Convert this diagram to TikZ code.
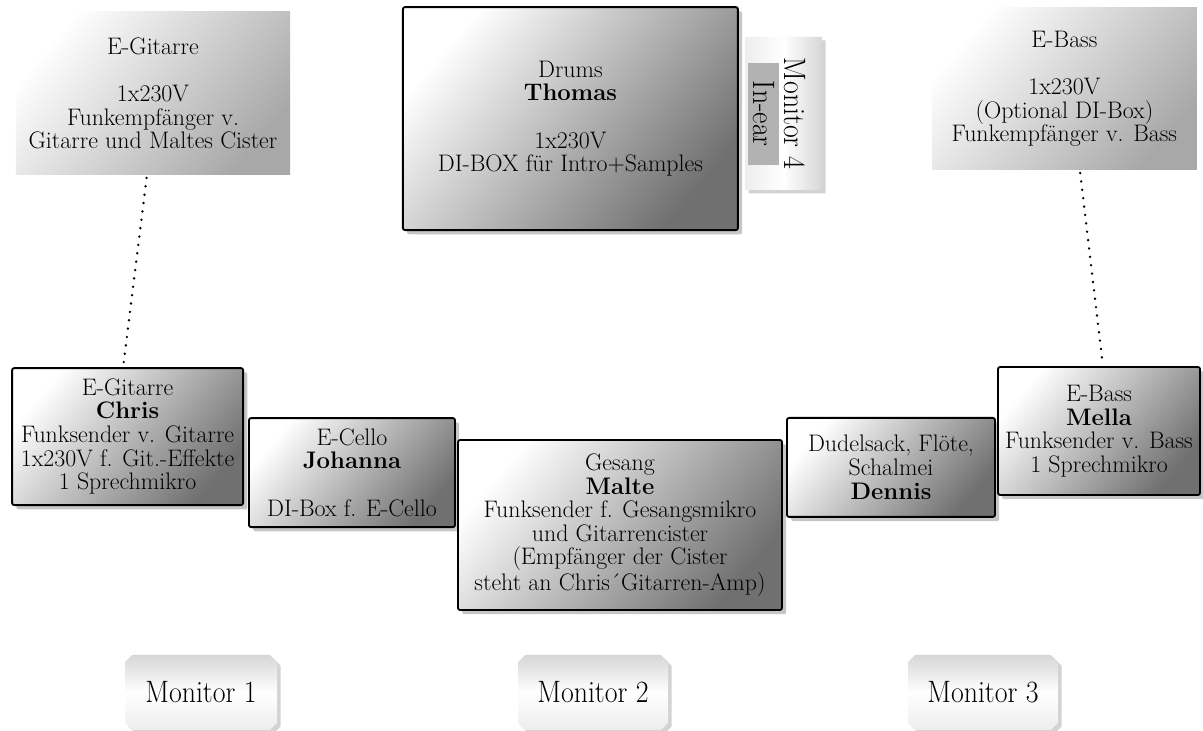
\documentclass[tikz,border=0pt]{standalone}
\usepackage{fontspec}
\usepackage{graphicx}
\usetikzlibrary{positioning, shadows, shapes.misc}
\newcommand{\stagefont}{\fontsize{17}{16.8}\selectfont}
\newcommand{\monlabel}[1]{\fontsize{22}{24}\selectfont\scalebox{0.9}[1]{#1}}
\tikzset{
  player/.style={rectangle, rounded corners=1.5pt, draw=black, line width=1.3pt,
                 top color=white, bottom color=black!56, shading angle=50,
                 drop shadow={shadow xshift=3pt, shadow yshift=-3pt, opacity=0.45},
                 align=center, inner sep=2pt, font=\stagefont},
  gearbox/.style={rectangle, top color=white, bottom color=black!34, shading angle=50,
                  align=center, inner sep=2pt, font=\stagefont},
  monbox/.style={chamfered rectangle, chamfered rectangle xsep=2.5pt,
                 chamfered rectangle ysep=2.5pt, top color=gray!32, bottom color=gray!14,
                 middle color=white, inner sep=0pt,
                 drop shadow={shadow xshift=2.5pt, shadow yshift=-2.5pt, opacity=0.35}},
  cable/.style={line width=1.9pt, line cap=round, dash pattern=on 0pt off 6pt},
}

\begin{document}
\begin{tikzpicture}
  \useasboundingbox (0,0) rectangle (30.075,18.275);

  % equipment at the back
  \node[gearbox, minimum width=6.85cm, minimum height=4.075cm] (gitamp) at (3.825,15.94)
    {E-Gitarre\\[16.8pt]1x230V\\Funkempfänger v.\\Gitarre und Maltes Cister};
  \node[gearbox, minimum width=6.625cm, minimum height=4.05cm] (bassamp) at (26.61,16.05)
    {E-Bass\\[16.8pt]1x230V\\(Optional DI-Box)\\Funkempfänger v. Bass};

  % drums and in-ear monitor
  \node[player, minimum width=8.375cm, minimum height=5.575cm] (drums) at (14.26,15.31)
    {Drums\\\textbf{Thomas}\\[16.8pt]1x230V\\DI-BOX für Intro+Samples};
  \node[monbox, minimum width=1.925cm, minimum height=3.825cm, shading angle=-90] (mon4) at (19.59,15.44) {};
  \node[fill=gray!60, minimum width=2.55cm, minimum height=0.775cm, inner sep=0pt, rotate=-90] (inear) at (19.09,15.43)
    {\monlabel{In-ear}};
  \node[rotate=-90, inner sep=0pt] (mon4lbl) at (19.88,15.44) {\monlabel{Monitor 4}};

  % front line
  \node[player, minimum width=5.775cm, minimum height=3.425cm] (chris) at (3.19,7.36)
    {E-Gitarre\\\textbf{Chris}\\Funksender v. Gitarre\\1x230V f. Git.-Effekte\\1 Sprechmikro};
  \node[player, minimum width=5.15cm, minimum height=2.725cm] (johanna) at (8.8,6.46)
    {E-Cello\\\textbf{Johanna}\\[16.8pt]DI-Box f. E-Cello};
  \node[player, minimum width=8.1cm, minimum height=4.25cm] (malte) at (15.5,5.15)
    {Gesang\\\textbf{Malte}\\Funksender f. Gesangsmikro\\und Gitarrencister\\(Empfänger der Cister\\steht an Chris´Gitarren-Amp)};
  \node[player, minimum width=5.2cm, minimum height=2.475cm] (dennis) at (22.275,6.59)
    {Dudelsack, Flöte,\\Schalmei\\\textbf{Dennis}};
  \node[player, minimum width=5.05cm, minimum height=3.2cm] (mella) at (27.475,7.5)
    {E-Bass\\\textbf{Mella}\\Funksender v. Bass\\1 Sprechmikro};

  % wedges
  \node[monbox, minimum width=3.8cm, minimum height=1.875cm] (mon1) at (5.025,0.9625) {\monlabel{Monitor 1}};
  \node[monbox, minimum width=3.75cm, minimum height=1.875cm] (mon2) at (14.825,0.9625) {\monlabel{Monitor 2}};
  \node[monbox, minimum width=3.75cm, minimum height=1.875cm] (mon3) at (24.575,0.9625) {\monlabel{Monitor 3}};

  % radio links
  \draw[cable, shorten <=2pt, shorten >=3pt] ([xshift=-4.3pt]gitamp.south) -- ([xshift=-3.2pt]chris.north);
  \draw[cable, shorten <=2pt, shorten >=3pt] ([xshift=11pt]bassamp.south) -- ([xshift=2.8pt]mella.north);
\end{tikzpicture}
\end{document}
